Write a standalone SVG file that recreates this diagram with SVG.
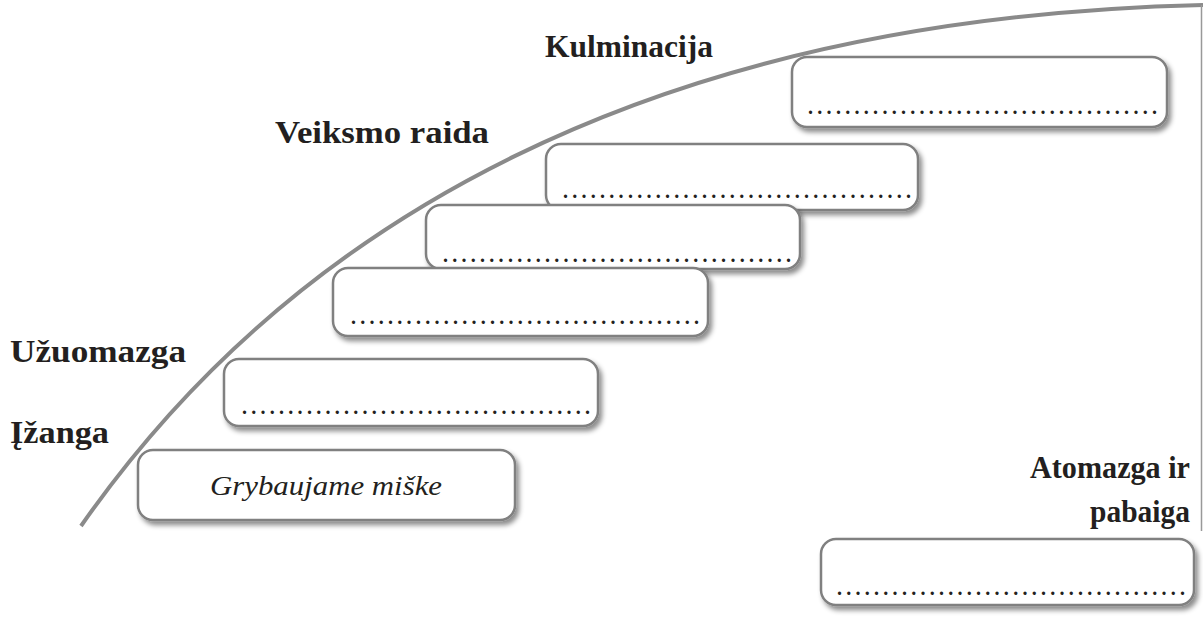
<svg xmlns="http://www.w3.org/2000/svg" width="1203" height="618" viewBox="0 0 1203 618">
<defs>
<filter id="sh" x="-5%" y="-20%" width="115%" height="150%">
<feDropShadow dx="3" dy="4" stdDeviation="2.5" flood-color="#000" flood-opacity="0.45"/>
</filter>
</defs>
<style>
.box{fill:#fff;stroke:#808080;stroke-width:2.5;filter:url(#sh)}
.lbl{font-family:"Liberation Serif","Times New Roman",serif;font-weight:bold;font-size:31px;fill:#231f20}
.dots{font-family:"Liberation Serif","Times New Roman",serif;font-weight:bold;font-size:20px;fill:#231f20}
.it{font-family:"Liberation Serif","Times New Roman",serif;font-style:italic;font-size:28px;fill:#231f20}
</style>
<rect width="1203" height="618" fill="#fff"/>
<g id="connectors">
<path d="M81,526 C293,222 650,18 1203,5" fill="none" stroke="#8a8a8a" stroke-width="4"/>
<line x1="1201.5" y1="5" x2="1201.5" y2="531" stroke="#999" stroke-width="1.5"/>
</g>
<g id="labels">
<text class="lbl" x="545" y="57" textLength="168" lengthAdjust="spacingAndGlyphs">Kulminacija</text>
<text class="lbl" x="275" y="143" textLength="214" lengthAdjust="spacingAndGlyphs">Veiksmo raida</text>
<text class="lbl" x="10" y="362" textLength="176" lengthAdjust="spacingAndGlyphs">Užuomazga</text>
<text class="lbl" x="10" y="443" textLength="99" lengthAdjust="spacingAndGlyphs">Įžanga</text>
<text class="lbl" x="1190" y="478" text-anchor="end" textLength="160" lengthAdjust="spacingAndGlyphs">Atomazga ir</text>
<text class="lbl" x="1190" y="522" text-anchor="end" textLength="100" lengthAdjust="spacingAndGlyphs">pabaiga</text>
</g>
<g id="box6">
<rect class="box" x="792" y="57" width="375" height="70" rx="15"/>
<text class="dots" x="808" y="114" textLength="349" lengthAdjust="spacing">......................................</text>
</g>
<g id="box5">
<rect class="box" x="546" y="144" width="372" height="66" rx="15"/>
<text class="dots" x="563" y="198" textLength="348" lengthAdjust="spacing">......................................</text>
</g>
<g id="box4">
<rect class="box" x="426" y="205" width="374" height="64" rx="15"/>
<text class="dots" x="443" y="262" textLength="348" lengthAdjust="spacing">......................................</text>
</g>
<g id="box3">
<rect class="box" x="333" y="268" width="375" height="68" rx="15"/>
<text class="dots" x="351" y="324" textLength="348" lengthAdjust="spacing">......................................</text>
</g>
<g id="box2">
<rect class="box" x="224" y="359" width="374" height="67" rx="15"/>
<text class="dots" x="242" y="414" textLength="348" lengthAdjust="spacing">......................................</text>
</g>
<g id="box1">
<rect class="box" x="138" y="450" width="377" height="70" rx="15"/>
<text class="it" x="326" y="495" text-anchor="middle" textLength="232" lengthAdjust="spacingAndGlyphs">Grybaujame miške</text>
</g>
<g id="box7">
<rect class="box" x="821" y="539" width="373" height="66" rx="15"/>
<text class="dots" x="837" y="595" textLength="348" lengthAdjust="spacing">......................................</text>
</g>
</svg>
